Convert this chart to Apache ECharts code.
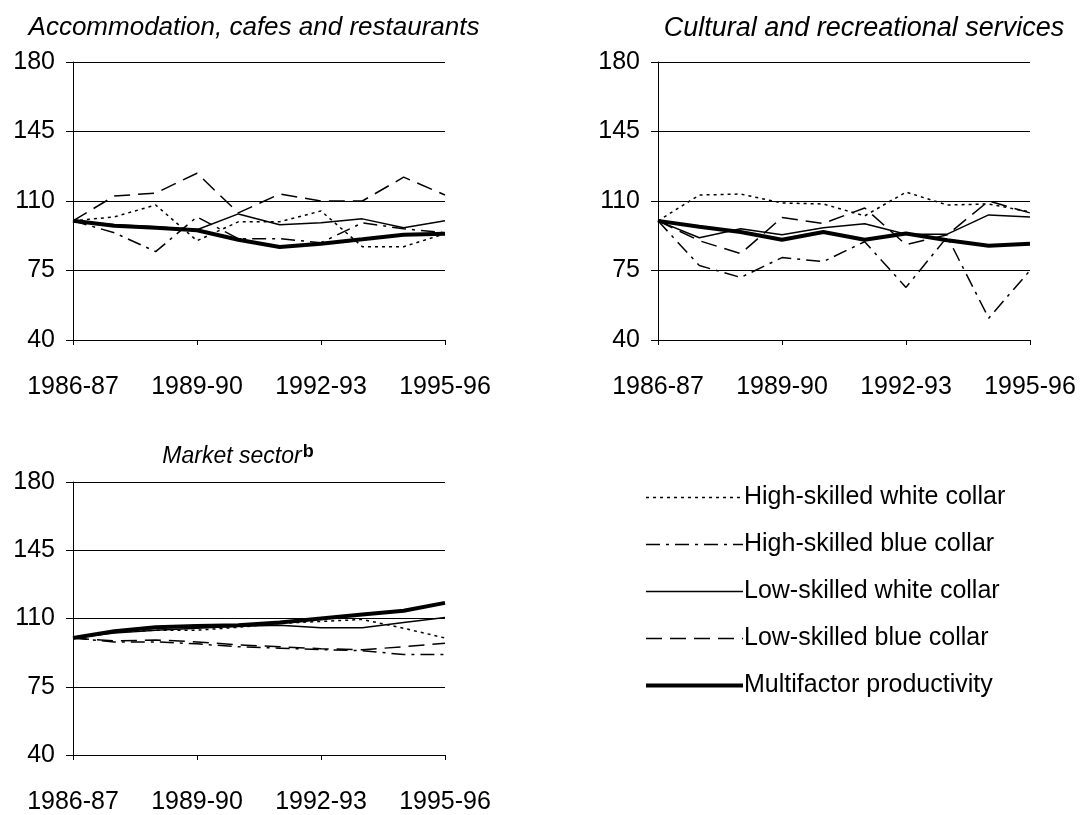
<!DOCTYPE html>
<html>
<head>
<meta charset="utf-8">
<script src="https://cdn.jsdelivr.net/npm/echarts@6/dist/echarts.min.js"></script>
<style>
  html, body { margin: 0; padding: 0; background: #fff; }
  #main { width: 1083px; height: 815px; }
</style>
</head>
<body>
<div id="main"></div>
<script>
const years = ["1986-87", "1987-88", "1988-89", "1989-90", "1990-91", "1991-92", "1992-93", "1993-94", "1994-95", "1995-96"];
const yTicks = [40, 75, 110, 145, 180];

const names = [
  "High-skilled white collar",
  "High-skilled blue collar",
  "Low-skilled white collar",
  "Low-skilled blue collar",
  "Multifactor productivity",
];

// Accommodation, cafes and restaurants
const accHSWC = [100, 102, 108, 90, 99.5, 99.5, 105, 87, 87, 93.5];
const accHSBC = [100, 94, 84.5, 102, 91, 91, 89, 99, 96, 94];
const accLSWC = [100, 98, 97, 95.5, 103.5, 98, 99, 101, 96.5, 100];
const accLSBC = [100, 112.5, 114, 124, 104, 113.5, 110, 110, 122, 113];
const accMFP = [100, 97.5, 96.5, 95.3, 90.5, 86.8, 88.5, 90.7, 93, 93.5];

// Cultural and recreational services
const culHSWC = [100, 113, 113.5, 109, 108.5, 102.5, 114.5, 108, 108.5, 104.5];
const culHSBC = [100, 77.5, 71.5, 81.5, 79.5, 89.5, 66.5, 92, 51, 75];
const culLSWC = [100, 91.5, 96, 93, 96.5, 98.5, 93.3, 93.3, 103, 102];
const culLSBC = [100, 90, 83.5, 101.7, 98.7, 106.5, 88, 93, 110, 104];
const culMFP = [100, 97, 94.4, 90.5, 94.4, 90.5, 93.6, 90.2, 87.5, 88.5];

// Market sector
const mktHSWC = [100, 103, 104, 104, 105.5, 107.5, 108.5, 109.5, 105, 100];
const mktHSBC = [100, 98, 98, 97, 95.5, 94.8, 94, 93.5, 91.5, 91.5];
const mktLSWC = [100, 102.5, 104, 105, 106, 106.5, 105.3, 105.3, 108, 110.5];
const mktLSBC = [100, 98.5, 99, 98, 96.5, 95.5, 94.5, 94, 95.5, 97.3];
const mktMFP = [100, 103.5, 105.5, 106.2, 106.5, 108, 110, 112, 114, 118];

const panels = [
  [accHSWC, accHSBC, accLSWC, accLSBC, accMFP],
  [culHSWC, culHSBC, culLSWC, culLSBC, culMFP],
  [mktHSWC, mktHSBC, mktLSWC, mktLSBC, mktMFP],
];

const styles = [
  { width: 1.5, type: [3, 4] },
  { width: 1.5, type: [14, 6, 3, 6] },
  { width: 1.5, type: "solid" },
  { width: 1.5, type: [16, 8] },
  { width: 4, type: "solid" },
];

const font = "Liberation Sans, Arial, sans-serif";

const grids = [
  { left: 73, top: 62, width: 372, height: 278 },
  { left: 658, top: 62, width: 372, height: 278 },
  { left: 73, top: 482, width: 372, height: 278 },
];

const xAxes = grids.map((g, i) => ({
  type: "category",
  gridIndex: i,
  data: years,
  boundaryGap: false,
  axisLine: { lineStyle: { color: "#000", width: 1 } },
  axisTick: { interval: 2, length: 5, lineStyle: { color: "#000" } },
  axisLabel: { interval: 2, margin: 35, color: "#000", fontSize: 25, fontFamily: font },
  splitLine: { show: false },
}));

const yAxes = grids.map((g, i) => ({
  type: "value",
  gridIndex: i,
  min: yTicks[0],
  max: yTicks[yTicks.length - 1],
  interval: 35,
  axisLine: { show: true, lineStyle: { color: "#000", width: 1 } },
  axisTick: { show: true, length: 7, lineStyle: { color: "#000" } },
  axisLabel: { margin: 18, color: "#000", fontSize: 25, fontFamily: font },
  splitLine: { show: true, lineStyle: { color: "#000", width: 1 } },
}));

const series = [];
panels.forEach((set, p) => {
  set.forEach((vals, k) => {
    series.push({
      name: names[k],
      type: "line",
      xAxisIndex: p,
      yAxisIndex: p,
      data: vals,
      symbol: "none",
      lineStyle: Object.assign({ color: "#000" }, styles[k]),
      itemStyle: { color: "#000" },
      z: k === 4 ? 5 : 3,
    });
  });
});

const titleStyle = { fontSize: 26, fontStyle: "italic", fontWeight: "normal", color: "#000", fontFamily: font };

const chart = echarts.init(document.getElementById("main"));
chart.setOption({
  animation: false,
  backgroundColor: "#fff",
  title: [
    {
      text: "Accommodation, cafes and restaurants",
      left: 254, top: 15, textAlign: "center", padding: 0,
      textStyle: titleStyle,
    },
    {
      text: "Cultural and recreational services",
      left: 864, top: 15, textAlign: "center", padding: 0,
      textStyle: Object.assign({}, titleStyle, { fontSize: 27 }),
    },
    {
      text: "{i|Market sector}{b|b}",
      left: 238, top: 443, textAlign: "center", padding: 0,
      textStyle: {
        fontWeight: "normal",
        rich: {
          i: { fontSize: 23, fontStyle: "italic", fontWeight: "normal", color: "#000", fontFamily: font },
          b: { fontSize: 18, fontWeight: "bold", color: "#000", fontFamily: font, verticalAlign: "top", padding: [0, 0, 10, 1] },
        },
      },
    },
  ],
  legend: {
    data: names.map((n, k) => ({ name: n, lineStyle: { width: styles[k].width, type: styles[k].type, color: "#000" } })),
    orient: "vertical",
    left: 639,
    top: 480,
    itemWidth: 97,
    itemHeight: 25,
    itemGap: 22,
    selectedMode: false,
    itemStyle: { opacity: 0 },
    textStyle: { fontSize: 25, color: "#000", fontFamily: font, padding: [0, 0, 0, -4] },
  },
  grid: grids,
  xAxis: xAxes,
  yAxis: yAxes,
  series: series,
});
</script>
</body>
</html>
